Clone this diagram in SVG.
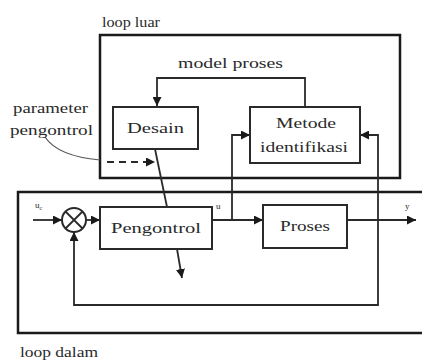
<svg xmlns="http://www.w3.org/2000/svg" width="422" height="360" viewBox="0 0 422 360">
<defs>
<marker id="arr" viewBox="0 0 10 10" refX="10" refY="5" markerWidth="9" markerHeight="9" markerUnits="userSpaceOnUse" orient="auto">
<path d="M0,0 L10,5 L0,10 z" fill="#1a1a1a"/>
</marker>
</defs>
<style>
.box{fill:#fff;stroke:#2a2a2a;stroke-width:2}
.loop{fill:none;stroke:#1a1a1a;stroke-width:2.5}
.ln{fill:none;stroke:#2a2a2a;stroke-width:1.8}
.t{font-family:"Liberation Serif",serif;font-size:14px;fill:#2a2a2a}
.s{font-family:"Liberation Serif",serif;font-size:9px;fill:#2a2a2a}
</style>
<rect width="422" height="360" fill="#fff"/>
<g id="loop-luar">
<rect class="loop" x="100" y="35" width="300" height="143"/>
<text class="t" x="102" y="27" textLength="58" lengthAdjust="spacingAndGlyphs">loop luar</text>
</g>
<g id="loop-dalam">
<path class="loop" d="M422,192 H18 V333 H422"/>
<text class="t" x="20" y="357" textLength="78" lengthAdjust="spacingAndGlyphs">loop dalam</text>
</g>
<g id="connectors">
<path class="ln" d="M305,107 V78 H157 V106" marker-end="url(#arr)"/>
<path class="ln" d="M155,149 L167,207"/>
<path class="ln" d="M177,249 L182,278" marker-end="url(#arr)"/>
<path class="ln" d="M107,162 H155" stroke-dasharray="7,5" marker-end="url(#arr)"/>
<path d="M45,137 C55,152 78,158 100,160" fill="none" stroke="#555" stroke-width="1.2"/>
<path class="ln" d="M33,220 H62" marker-end="url(#arr)"/>
<path class="ln" d="M86,220 H100" marker-end="url(#arr)"/>
<path class="ln" d="M212,220 H263" marker-end="url(#arr)"/>
<path class="ln" d="M232,220 V135 H250" marker-end="url(#arr)"/>
<path class="ln" d="M347,220 H416" marker-end="url(#arr)"/>
<path class="ln" d="M378,220 V135 H360" marker-end="url(#arr)"/>
<path class="ln" d="M378,220 V305 H74 V232" marker-end="url(#arr)"/>
</g>
<g id="label-model">
<text class="t" x="178" y="68" textLength="105" lengthAdjust="spacingAndGlyphs">model proses</text>
</g>
<g id="label-parameter">
<text class="t" x="13" y="113" textLength="75" lengthAdjust="spacingAndGlyphs">parameter</text>
<text class="t" x="10" y="135" textLength="83" lengthAdjust="spacingAndGlyphs">pengontrol</text>
</g>
<g id="desain">
<rect class="box" x="113" y="107" width="85" height="42"/>
<text class="t" x="155.5" y="133" text-anchor="middle" textLength="57" lengthAdjust="spacingAndGlyphs">Desain</text>
</g>
<g id="metode">
<rect class="box" x="250" y="107" width="110" height="56"/>
<text class="t" x="306" y="128" text-anchor="middle" textLength="60" lengthAdjust="spacingAndGlyphs">Metode</text>
<text class="t" x="304" y="152" text-anchor="middle" textLength="88" lengthAdjust="spacingAndGlyphs">identifikasi</text>
</g>
<g id="sum">
<circle cx="74" cy="220" r="12" fill="#fff" stroke="#2a2a2a" stroke-width="2"/>
<path class="ln" d="M65.5,211.5 L82.5,228.5 M82.5,211.5 L65.5,228.5"/>
</g>
<g id="pengontrol">
<rect class="box" x="100" y="207" width="112" height="42"/>
<text class="t" x="156" y="233" text-anchor="middle" textLength="90" lengthAdjust="spacingAndGlyphs">Pengontrol</text>
</g>
<g id="proses">
<rect class="box" x="263" y="205" width="84" height="43"/>
<text class="t" x="305" y="231" text-anchor="middle" textLength="50" lengthAdjust="spacingAndGlyphs">Proses</text>
</g>
<g id="signal-labels">
<text class="s" x="35" y="208">u<tspan font-size="6" dy="2">c</tspan></text>
<text class="s" x="216" y="209">u</text>
<text class="s" x="405" y="209">y</text>
</g>
</svg>
